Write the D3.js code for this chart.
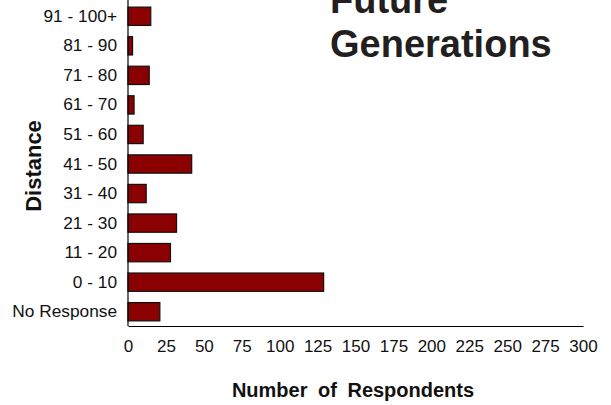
<!DOCTYPE html>
<html><head><meta charset="utf-8">
<script src="https://cdn.jsdelivr.net/npm/d3@7"></script>
<style>body{margin:0;background:#fff}svg{display:block}</style>
</head><body>
<script>
const categories = ["No Response","0 - 10","11 - 20","21 - 30","31 - 40","41 - 50","51 - 60","61 - 70","71 - 80","81 - 90","91 - 100+"];
const values = [21, 129, 28, 32, 12, 42, 10, 4, 14, 3, 15];
const xTicks = [0,25,50,75,100,125,150,175,200,225,250,275,300];
const titleLines = ["Future","Generations"];
const xTitle = "Number of Respondents";
const yTitle = "Distance";

const W = 611, H = 405;
const svg = d3.select("body").append("svg").attr("width", W).attr("height", H);
const x = d3.scaleLinear().domain([0,300]).range([128,583]);
const y = d3.scaleBand().domain(categories).range([326.5,1.5]).paddingInner(0.38).paddingOuter(0.19);

svg.append("g").selectAll("rect").data(values).join("rect")
  .attr("x", x(0)).attr("y", (d,i)=>y(categories[i]))
  .attr("width", d=>x(d)-x(0)).attr("height", y.bandwidth())
  .attr("fill", "#8b0000").attr("stroke", "#111").attr("stroke-width", 1.2);

const xa = svg.append("g").attr("transform","translate(0,326)")
  .call(d3.axisBottom(x).tickValues(xTicks).tickSize(0).tickPadding(14));
xa.select(".domain").attr("stroke","#000").attr("stroke-width",1.2);
xa.selectAll("text").attr("font-family","Liberation Sans, Arial, sans-serif").attr("font-size",17).attr("fill","#111");

const ya = svg.append("g").attr("transform","translate(128,0)")
  .call(d3.axisLeft(y).tickSize(0).tickPadding(11));
ya.select(".domain").attr("d","M0,0V326").attr("stroke","#000").attr("stroke-width",1.2);
ya.selectAll("text").attr("font-family","Liberation Sans, Arial, sans-serif").attr("font-size",17.3).attr("fill","#111");

svg.append("text").attr("x",353).attr("y",397).attr("text-anchor","middle")
  .attr("font-family","Liberation Sans, Arial, sans-serif").attr("font-weight","bold")
  .attr("font-size",20).attr("word-spacing",5).attr("fill","#111").text(xTitle);

svg.append("text").attr("transform","translate(41,166) rotate(-90)").attr("text-anchor","middle")
  .attr("font-family","Liberation Sans, Arial, sans-serif").attr("font-weight","bold")
  .attr("font-size",22).attr("fill","#111").text(yTitle);

svg.append("g").selectAll("text").data(titleLines).join("text")
  .attr("x",330).attr("y",(d,i)=>13+i*44)
  .attr("font-family","Liberation Sans, Arial, sans-serif").attr("font-weight","bold")
  .attr("font-size",38).attr("fill","#231f20").text(d=>d);
</script>
</body></html>
